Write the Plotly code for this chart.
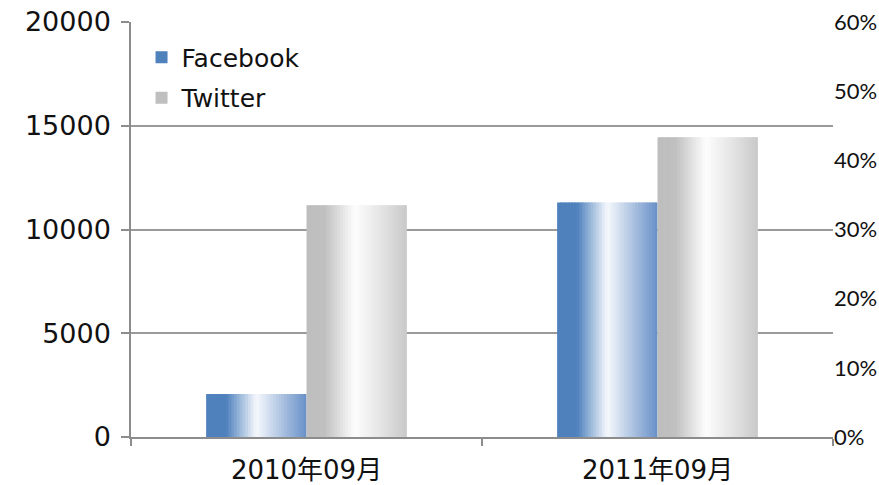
import plotly.graph_objects as go

# ---- data ----
categories = ["2010年09月", "2011年09月"]
series_names = ["Facebook", "Twitter"]
facebook = [2070, 11300]
twitter = [11170, 14440]
left_ticks = [0, 5000, 10000, 15000, 20000]
right_ticks = [0, 0.1, 0.2, 0.3, 0.4, 0.5, 0.6]

# ---- style ----
BAR_W = 0.286          # width of one bar in category units
N_SLICES = 36          # slices used to imitate the gradient fill
fb_stops = [(0.0, (79, 129, 189)), (0.2, (79, 129, 189)), (0.5, (246, 249, 253)),
            (0.8, (160, 185, 220)), (1.0, (104, 144, 200))]
tw_stops = [(0.0, (190, 190, 190)), (0.18, (192, 192, 192)), (0.48, (253, 253, 253)),
            (0.75, (228, 228, 228)), (1.0, (200, 200, 200))]


def grad(stops, t):
    for (t0, c0), (t1, c1) in zip(stops[:-1], stops[1:]):
        if t0 <= t <= t1:
            f = 0 if t1 == t0 else (t - t0) / (t1 - t0)
            c = [round(a + (b - a) * f) for a, b in zip(c0, c1)]
            return "rgb(%d,%d,%d)" % tuple(c)
    c = stops[-1][1]
    return "rgb(%d,%d,%d)" % c


fig = go.Figure()

for name, vals, stops, base in [(series_names[0], facebook, fb_stops, -BAR_W),
                                (series_names[1], twitter, tw_stops, 0.0)]:
    step = BAR_W / N_SLICES
    for i in range(N_SLICES):
        t = (i + 0.5) / N_SLICES
        w = min(step * 1.7, BAR_W - i * step)
        fig.add_trace(go.Bar(
            x=categories, y=vals, name=name,
            offset=base + i * step, width=w,
            marker=dict(color=grad(stops, t), line=dict(width=0)),
            legendgroup=name, showlegend=(i == 2),
            hoverinfo="skip",
        ))

# empty trace so the secondary (percent) axis is drawn
fig.add_trace(go.Scatter(x=[], y=[], yaxis="y2", showlegend=False, hoverinfo="skip"))

FONT = "DejaVu Sans, Noto Sans CJK JP"

fig.update_layout(
    width=879, height=485,
    margin=dict(l=131, r=46, t=22, b=48),
    paper_bgcolor="white", plot_bgcolor="white",
    barmode="overlay",
    showlegend=True,
    legend=dict(x=0.015, y=0.97, xanchor="left", yanchor="top",
                bgcolor="rgba(0,0,0,0)", tracegroupgap=5,
                font=dict(family=FONT, size=25, color="#111111")),
    xaxis=dict(
        type="category", showgrid=False, showline=True, linecolor="#8c8c8c", linewidth=1.5,
        ticks="outside", tickson="boundaries", ticklen=7, tickcolor="#8c8c8c", tickwidth=1.5,
        tickfont=dict(family=FONT, size=26, color="#111111"),
        ticklabelstandoff=9, automargin=False,
    ),
    yaxis=dict(
        range=[0, 20000], tickvals=left_ticks, tickformat="d",
        showgrid=True, gridcolor="#9a9a9a", gridwidth=1.5,
        showline=True, linecolor="#8c8c8c", linewidth=1.5,
        ticks="outside", ticklen=8, tickcolor="#8c8c8c", tickwidth=1.5,
        tickfont=dict(family=FONT, size=27, color="#111111"),
        ticklabelstandoff=5, zeroline=False, automargin=False,
    ),
    yaxis2=dict(
        overlaying="y", side="right", range=[0, 0.6], tickvals=right_ticks,
        tickformat=".0%", showgrid=False, showline=False, zeroline=False, ticks="",
        tickfont=dict(family="Lato, Open Sans", size=22, color="#111111"),
        automargin=False, ticklabelstandoff=0,
    ),
)

fig.write_html("out.html")
